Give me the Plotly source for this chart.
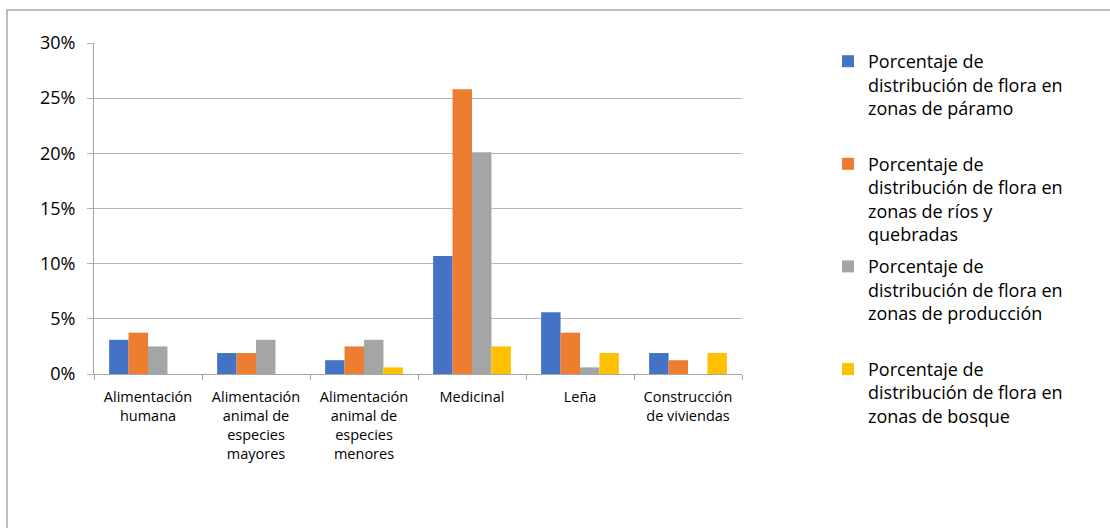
import plotly.graph_objects as go

categories = [
    "Alimentación<br>humana",
    "Alimentación<br>animal de<br>especies<br>mayores",
    "Alimentación<br>animal de<br>especies<br>menores",
    "Medicinal",
    "Leña",
    "Construcción<br>de viviendas",
]

paramo = [3.1, 1.9, 1.25, 10.7, 5.6, 1.9]
rios = [3.75, 1.9, 2.5, 25.8, 3.75, 1.25]
produccion = [2.5, 3.1, 3.1, 20.1, 0.6, 0.0]
bosque = [0.0, 0.0, 0.6, 2.5, 1.9, 1.9]

series_names = [
    "Porcentaje de<br>distribución de flora en<br>zonas de páramo<br>\u00a0",
    "Porcentaje de<br>distribución de flora en<br>zonas de ríos y<br>quebradas",
    "Porcentaje de<br>distribución de flora en<br>zonas de producción<br>\u00a0",
    "Porcentaje de<br>distribución de flora en<br>zonas de bosque",
]
series_values = [paramo, rios, produccion, bosque]
colors = ["#4472C4", "#ED7D31", "#A5A5A5", "#FFC000"]

y_ticks = [0, 5, 10, 15, 20, 25, 30]
y_ticklabels = ["0%", "5%", "10%", "15%", "20%", "25%", "30%"]

fig = go.Figure()
for i, (name, vals, col) in enumerate(zip(series_names, series_values, colors)):
    fig.add_trace(go.Bar(
        x=categories, y=vals, name=name,
        marker=dict(color=col, line=dict(width=0)),
        legendgroup=f"g{i}",
    ))

L, R, T, B = 94, 368, 43, 154
W, H = 1110, 528
pw, ph = W - L - R, H - T - B

def px_x(p):
    return (p - L) / pw

def px_y(p):
    return (H - B - p) / ph

fig.update_layout(
    width=W, height=H,
    margin=dict(l=L, r=R, t=T, b=B, pad=0),
    paper_bgcolor="white", plot_bgcolor="white",
    barmode="group", bargap=0.28, bargroupgap=0,
    font=dict(family="Open Sans", color="#000000"),
    legend=dict(
        x=px_x(828), y=px_y(43), xanchor="left", yanchor="top",
        font=dict(size=18, family="Open Sans", color="#000000"),
        valign="top", itemwidth=30, tracegroupgap=6,
        bgcolor="rgba(0,0,0,0)", maxheight=520,
    ),
    xaxis=dict(
        showgrid=False, showline=True, linecolor="#a6a6a6", linewidth=1,
        ticks="outside", tickson="boundaries", ticklen=5, tickcolor="#a6a6a6",
        tickfont=dict(size=14.5, family="Open Sans", color="#000000"),
        ticklabelstandoff=10, fixedrange=True,
    ),
    yaxis=dict(
        range=[0, 30], tickvals=y_ticks, ticktext=y_ticklabels,
        showgrid=True, gridcolor="#b4b4b4", gridwidth=1,
        showline=True, linecolor="#a6a6a6", linewidth=1,
        ticks="outside", ticklen=6, tickcolor="#b4b4b4",
        tickfont=dict(size=18, family="Open Sans", color="#000000"),
        ticklabelstandoff=8, zeroline=False, fixedrange=True,
    ),
    shapes=[dict(
        type="rect", xref="paper", yref="paper",
        x0=px_x(7), x1=px_x(1120), y0=px_y(540), y1=px_y(10),
        line=dict(color="#a6a6a6", width=1.5), fillcolor="rgba(0,0,0,0)",
        layer="below",
    )],
)

fig.write_html(
    "out.html",
    config={"displayModeBar": False},
    post_script="document.body.style.margin='0';document.body.style.overflow='hidden';",
)
